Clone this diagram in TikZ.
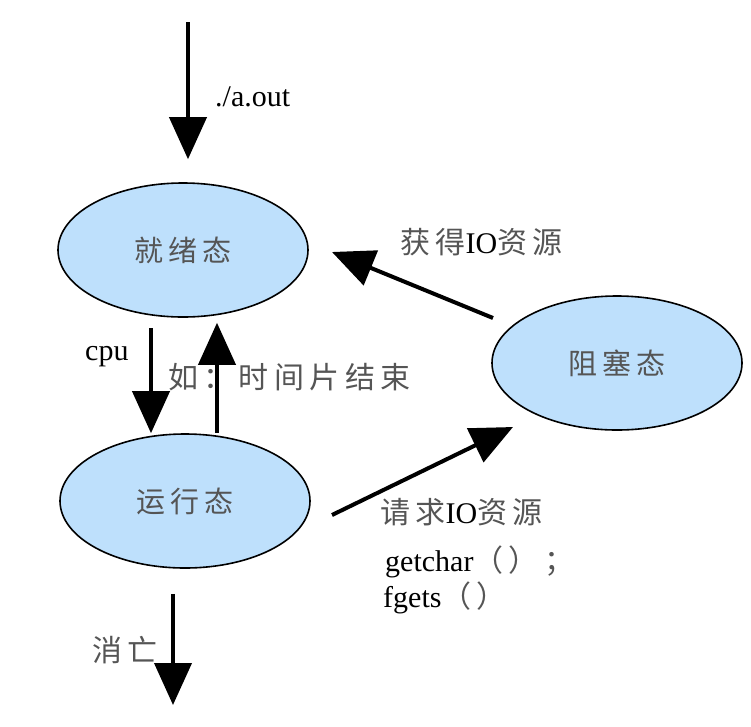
\documentclass[tikz,border=0pt]{standalone}
\usepackage{fontspec}
\setmainfont{Liberation Serif}
\newfontfamily\cjk[LetterSpace=18]{Noto Sans CJK SC}
\usetikzlibrary{shapes.geometric,arrows.meta}
\definecolor{statefill}{RGB}{190,224,252}
\definecolor{zhgray}{RGB}{85,85,85}
\newcommand{\zh}[1]{{\cjk\color{zhgray}#1}}
\begin{document}
\begin{tikzpicture}[x=1pt,y=-1pt,
        state/.style = {draw, ellipse, line width=1.6pt, fill=statefill, minimum width=250pt, minimum height=134pt, inner sep=0pt, font=\fontsize{29}{32}\selectfont},
        arr/.style = {line width=4pt, -{Triangle[length=42pt,width=37pt]}},
        lbl/.style = {anchor=west, inner sep=0pt, font=\fontsize{30}{34}\selectfont}]
        \useasboundingbox (0,0) rectangle (751,726);
        \node[state] (ready) at (183,250) {\zh{就绪态}};
        \node[state] (running) at (185,501) {\zh{运行态}};
        \node[state] (blocked) at (617,363) {\zh{阻塞态}};
        \coordinate (start) at (188,22);
        \coordinate (cpu) at (151,328);
        \coordinate (slice) at (217,322);
        \coordinate (end) at (173,705);
        \coordinate (gettail) at (493,318);
        \coordinate (gettip) at (332,252);
        \coordinate (reqtail) at (332,515);
        \coordinate (reqtip) at (513,427);
        \draw[arr, shorten >=23pt] (start) -- (start |- ready.north);
        \draw[arr] (cpu) -- (cpu |- running.north);
        \draw[arr, shorten >=5pt] (running.north -| slice) -- (slice |- ready.south);
        \draw[arr] (gettail) -- (gettip);
        \draw[arr] (reqtail) -- (reqtip);
        \draw[arr, shorten <=25pt] (running.south -| end) -- (end);
        \node[lbl] (aout) at (215,97) {./a.out};
        \node[lbl] (cpulbl) at (85,357) {cpu};
        \node[lbl] (slicelbl) at (168,377) {\zh{如：时间片结束}};
        \node[lbl] (getlbl) at (400,242) {\zh{获得}IO\zh{资源}};
        \node[lbl] (reqlbl) at (380,512) {\zh{请求}IO\zh{资源}};
        \node[lbl] (getchar) at (385,562) {getchar\zh{（）；}};
        \node[lbl] (fgets) at (383,598) {fgets\zh{（）}};
        \node[lbl] (exitlbl) at (92,650) {\zh{消亡}};
\end{tikzpicture}
\end{document}
